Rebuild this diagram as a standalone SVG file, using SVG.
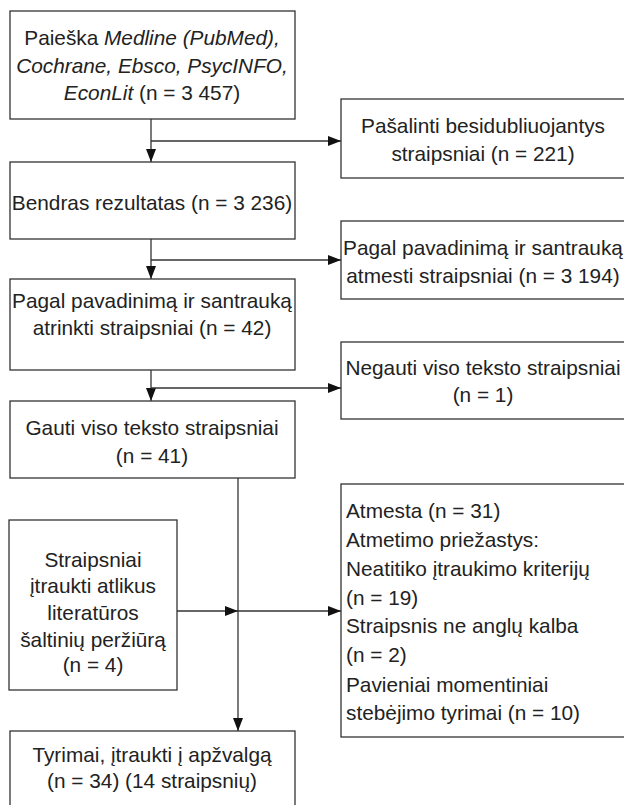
<svg xmlns="http://www.w3.org/2000/svg" width="624" height="805" viewBox="0 0 624 805">
<defs>
<style>
.box{fill:#fff;stroke:#333;stroke-width:1.3}
.t{font-family:"Liberation Sans",Arial,sans-serif;font-size:20.8px;fill:#222}
.c{text-anchor:middle}
.i{font-style:italic}
.ln{stroke:#333;stroke-width:1.3;fill:none}
</style>
<marker id="ah" viewBox="0 0 13 10" refX="13" refY="5" markerWidth="13" markerHeight="10" markerUnits="userSpaceOnUse" orient="auto">
<path d="M0,0 L13,5 L0,10 Z" fill="#111"/>
</marker>
</defs>
<rect width="624" height="805" fill="#fff"/>
<g id="connectors">
<path class="ln" d="M151,119 V162" marker-end="url(#ah)"/>
<path class="ln" d="M151,141 H341" marker-end="url(#ah)"/>
<path class="ln" d="M151,239 V279" marker-end="url(#ah)"/>
<path class="ln" d="M151,260 H341" marker-end="url(#ah)"/>
<path class="ln" d="M151,370 V401" marker-end="url(#ah)"/>
<path class="ln" d="M151,388 H341" marker-end="url(#ah)"/>
<path class="ln" d="M238,478 V731" marker-end="url(#ah)"/>
<path class="ln" d="M177,611 H238" marker-end="url(#ah)"/>
<path class="ln" d="M238,611 H341" marker-end="url(#ah)"/>
</g>
<g id="search">
<rect class="box" x="10" y="11" width="285" height="108"/>
<text class="t c" x="152" y="45">Paieška <tspan class="i">Medline (PubMed),</tspan></text>
<text class="t c i" x="152" y="73">Cochrane, Ebsco, PsycINFO,</text>
<text class="t c" x="152" y="100"><tspan class="i">EconLit</tspan> (n = 3 457)</text>
</g>
<g id="duplicates">
<rect class="box" x="341" y="99" width="290" height="79"/>
<text class="t c" x="483" y="133">Pašalinti besidubliuojantys</text>
<text class="t c" x="483" y="161">straipsniai (n = 221)</text>
</g>
<g id="total">
<rect class="box" x="10" y="162" width="285" height="77"/>
<text class="t c" x="152" y="210">Bendras rezultatas (n = 3 236)</text>
</g>
<g id="excluded-title">
<rect class="box" x="341" y="221" width="290" height="78"/>
<text class="t c" x="483" y="255">Pagal pavadinimą ir santrauką</text>
<text class="t c" x="483" y="283">atmesti straipsniai (n = 3 194)</text>
</g>
<g id="selected">
<rect class="box" x="10" y="279" width="285" height="91"/>
<text class="t c" x="152" y="308">Pagal pavadinimą ir santrauką</text>
<text class="t c" x="152" y="335">atrinkti straipsniai (n = 42)</text>
</g>
<g id="notfull">
<rect class="box" x="341" y="342" width="290" height="77"/>
<text class="t c" x="483" y="375">Negauti viso teksto straipsniai</text>
<text class="t c" x="483" y="402">(n = 1)</text>
</g>
<g id="fulltext">
<rect class="box" x="10" y="401" width="285" height="77"/>
<text class="t c" x="152" y="435">Gauti viso teksto straipsniai</text>
<text class="t c" x="152" y="463">(n = 41)</text>
</g>
<g id="added">
<rect class="box" x="9" y="520" width="168" height="170"/>
<text class="t c" x="93" y="567">Straipsniai</text>
<text class="t c" x="93" y="593">įtraukti atlikus</text>
<text class="t c" x="93" y="620">literatūros</text>
<text class="t c" x="93" y="647">šaltinių peržiūrą</text>
<text class="t c" x="93" y="672">(n = 4)</text>
</g>
<g id="rejected">
<rect class="box" x="341" y="484" width="290" height="253"/>
<text class="t" x="346" y="518">Atmesta (n = 31)</text>
<text class="t" x="346" y="547">Atmetimo priežastys:</text>
<text class="t" x="346" y="576">Neatitiko įtraukimo kriterijų</text>
<text class="t" x="346" y="605">(n = 19)</text>
<text class="t" x="346" y="633">Straipsnis ne anglų kalba</text>
<text class="t" x="346" y="662">(n = 2)</text>
<text class="t" x="346" y="692">Pavieniai momentiniai</text>
<text class="t" x="346" y="720">stebėjimo tyrimai (n = 10)</text>
</g>
<g id="included">
<rect class="box" x="10" y="731" width="285" height="90"/>
<text class="t c" x="152" y="762">Tyrimai, įtraukti į apžvalgą</text>
<text class="t c" x="152" y="788">(n = 34) (14 straipsnių)</text>
</g>
</svg>
